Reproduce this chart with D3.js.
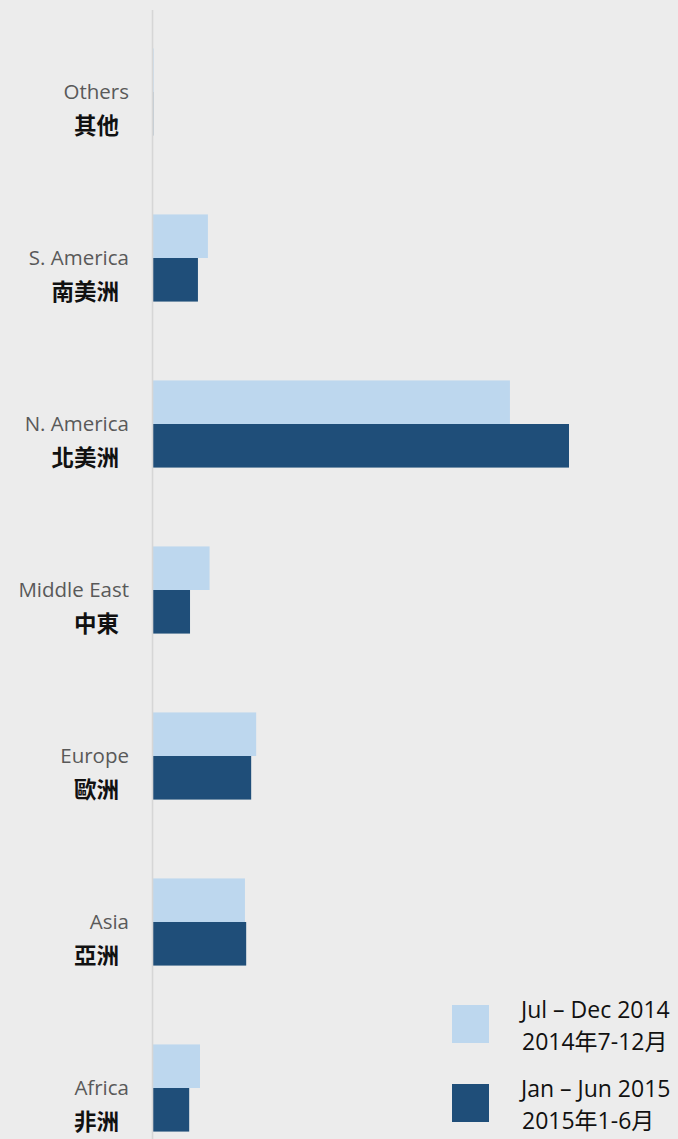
<!DOCTYPE html>
<html>
<head>
<meta charset="utf-8">
<script src="https://cdn.jsdelivr.net/npm/d3@7"></script>
<style>
  html, body { margin: 0; padding: 0; background: #ececec; }
  svg { display: block; }
</style>
</head>
<body>
<div id="chart"></div>
<script>
(function () {
  'use strict';

  // Regions, top to bottom
  const CATEGORIES_EN = ['Others', 'S. America', 'N. America', 'Middle East', 'Europe', 'Asia', 'Africa'];
  const CATEGORIES_ZH = ['其他', '南美洲', '北美洲', '中東', '歐洲', '亞洲', '非洲'];

  // Series (relative scale, N. America Jan–Jun 2015 = 100)
  const SERIES_KEYS = ['h2_2014', 'h1_2015'];
  const SERIES_EN = ['Jul – Dec 2014', 'Jan – Jun 2015'];
  const SERIES_ZH = ['2014年7-12月', '2015年1-6月'];
  const VALUES_H2_2014 = [0.15, 13.2, 85.8, 13.6, 24.8, 22.1, 11.3];
  const VALUES_H1_2015 = [0.05, 10.8, 100, 8.9, 23.6, 22.4, 8.7];

  const COLORS = ['#bdd7ee', '#1f4e79'];
  const BG = '#ececec';

  const W = 678, H = 1139;

  const rows = CATEGORIES_EN.map((c, i) => ({
    en: c,
    zh: CATEGORIES_ZH[i],
    h2_2014: VALUES_H2_2014[i],
    h1_2015: VALUES_H1_2015[i]
  }));

  const svg = d3.select('#chart').append('svg')
    .attr('width', W).attr('height', H)
    .attr('viewBox', `0 0 ${W} ${H}`);

  svg.append('rect').attr('width', W).attr('height', H).attr('fill', BG);

  const y0 = d3.scaleBand()
    .domain(CATEGORIES_EN)
    .range([9, 1171])
    .paddingInner(0.475)
    .paddingOuter(0.2375);

  const y1 = d3.scaleBand()
    .domain(SERIES_KEYS)
    .range([0, y0.bandwidth()]);

  const x = d3.scaleLinear()
    .domain([0, 100])
    .range([153, 569]);

  const color = d3.scaleOrdinal().domain(SERIES_KEYS).range(COLORS);

  // Bars
  const groups = svg.append('g').selectAll('g')
    .data(rows)
    .join('g')
    .attr('transform', d => `translate(0,${y0(d.en)})`);

  groups.selectAll('rect')
    .data(d => SERIES_KEYS.map(k => ({ key: k, value: d[k] })))
    .join('rect')
    .attr('x', x(0))
    .attr('y', d => y1(d.key))
    .attr('width', d => x(d.value) - x(0))
    .attr('height', y1.bandwidth())
    .attr('fill', d => color(d.key));

  // Vertical axis line
  svg.append('line')
    .attr('x1', 152.5).attr('x2', 152.5)
    .attr('y1', 10).attr('y2', H)
    .attr('stroke', '#d6d6d6').attr('stroke-width', 1.6);

  // Category labels
  const labels = svg.append('g');
  rows.forEach(d => {
    const cy = y0(d.en) + y0.bandwidth() / 2;
    labels.append('text')
      .attr('x', 129).attr('y', cy + 7)
      .attr('text-anchor', 'end')
      .attr('font-family', '"Open Sans", sans-serif')
      .attr('font-size', 20.5)
      .attr('fill', '#595959')
      .text(d.en);
    labels.append('text')
      .attr('x', 119).attr('y', cy + 42)
      .attr('text-anchor', 'end')
      .attr('font-family', '"Noto Sans CJK TC", sans-serif')
      .attr('font-size', 22.5).attr('font-weight', 700)
      .attr('fill', '#111')
      .text(d.zh);
  });

  // Legend
  const legend = svg.append('g');
  const legendY = [1005, 1084];
  SERIES_KEYS.forEach((k, i) => {
    legend.append('rect')
      .attr('x', 452).attr('y', legendY[i])
      .attr('width', 37).attr('height', 38)
      .attr('fill', COLORS[i]);
    legend.append('text')
      .attr('x', 521).attr('y', legendY[i] + 13)
      .attr('font-family', '"Open Sans", sans-serif')
      .attr('font-size', 23).attr('fill', '#111')
      .text(SERIES_EN[i]);
    legend.append('text')
      .attr('x', 522).attr('y', legendY[i] + 45)
      .attr('font-family', '"Open Sans", "Noto Sans CJK TC", sans-serif')
      .attr('font-size', 23).attr('fill', '#111')
      .text(SERIES_ZH[i]);
  });
})();
</script>
</body>
</html>
